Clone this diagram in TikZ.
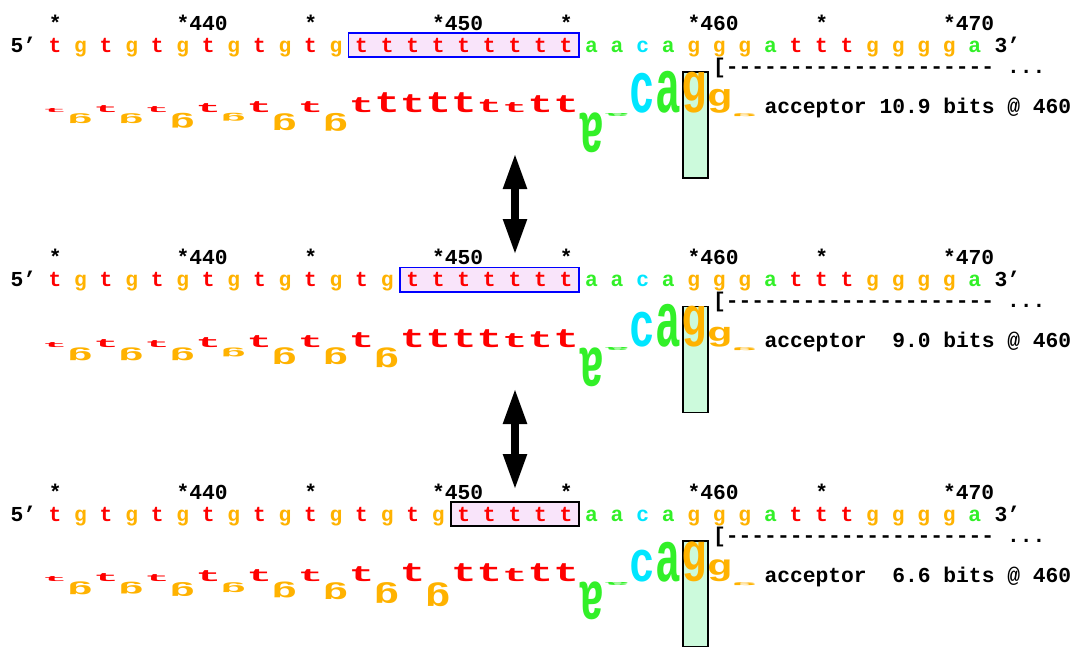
\documentclass[tikz,border=0pt]{standalone}
\usepackage{fontspec}
\setmonofont{Liberation Mono}
\usepackage{graphicx}
\usetikzlibrary{arrows.meta, backgrounds, calc}

\definecolor{colt}{RGB}{255,0,0}
\definecolor{colg}{RGB}{255,178,0}
\definecolor{cola}{RGB}{50,240,40}
\definecolor{colc}{RGB}{0,230,255}
\definecolor{boxpink}{RGB}{249,228,250}
\definecolor{sitegreen}{RGB}{204,250,220}

\begin{document}
\begin{tikzpicture}[x=1pt, y=-1pt,
	seq/.style={inner sep=0pt, minimum width=25.55pt, text height=19pt, text depth=5pt, anchor=base,
		font=\ttfamily\bfseries\fontsize{21.3}{24}\selectfont},
	lab/.style={inner sep=0pt, anchor=base west, font=\ttfamily\bfseries\fontsize{21.3}{24}\selectfont},
	walk/.style={inner sep=0pt, font=\ttfamily\bfseries\fontsize{30}{30}\selectfont},
	tbox/.style={fill=boxpink, line width=1.6pt},
	site/.style={fill=sitegreen, draw=black, line width=1.6pt},
	dbl/.style={line width=8pt, {Triangle[length=36pt,width=22pt]}-{Triangle[length=36pt,width=22pt]}}]
	\useasboundingbox (0,0) rectangle (1073,646);
	
	% first row, 9 t
	\foreach \t/\k in {*/0, *440/5, */10, *450/15, */20, *460/25, */30, *470/35}
	\node[lab] (n1-\k) at (55+25.55*\k-6.39,30) {\t};
	\node[lab] (p5a) at (10.3,52) {5’};
	\foreach \l [count=\i from 0] in {t,g,t,g,t,g,t,g,t,g,t,g,t,t,t,t,t,t,t,t,t,a,a,c,a,g,g,g,a,t,t,t,g,g,g,g,a}
	\node[seq, text=col\l] (s1-\i) at (55+25.55*\i,52) {\l};
	\node[lab] (p3a) at (994.3,52) {3’};
	\node[lab] (b1) at (712.9,73) {[--------------------- ...};
	\foreach \l/\h [count=\i from 0] in {t/4,g/-10,t/7,g/-10,t/6,g/-15,t/9,g/-8,t/11,g/-17,t/11,g/-18,t/15,t/20,t/18,t/20,t/20,t/13,t/10,t/17,t/17,a/-40,a/-3,c/40,a/42,g/41,g/24,g/-3} {
		\pgfmathsetmacro\hh{abs(\h)}
		\ifdim \h pt<0pt
		\node[walk, anchor=north, text=col\l] (w1-\i) at (55+25.55*\i,113) {\rotatebox{180}{\resizebox*{25.5pt}{\hh pt}{\l}}};
		\else
		\node[walk, anchor=south, text=col\l] (w1-\i) at (55+25.55*\i,113) {\resizebox*{25.5pt}{\hh pt}{\l}};
		\fi
	}
	\node[lab] (l1) at (764.3,113) {acceptor 10.9 bits @ 460};
	\begin{scope}[on background layer]
		\draw[tbox, draw=blue] (s1-12.north west) rectangle (s1-20.south east);
		\draw[site] ($(w1-25.south)+(-11,-41)$) rectangle ($(w1-25.south)+(14,65)$);
	\end{scope}
	
	\coordinate (a1s) at (515,153);
	\coordinate (a1e) at (515,255);
	\draw[dbl] (a1s) -- (a1e);
	
	% second row, 7 t
	\foreach \t/\k in {*/0, *440/5, */10, *450/15, */20, *460/25, */30, *470/35}
	\node[lab] (n2-\k) at (55+25.55*\k-6.39,264.5) {\t};
	\node[lab] (p5b) at (10.3,286.5) {5’};
	\foreach \l [count=\i from 0] in {t,g,t,g,t,g,t,g,t,g,t,g,t,g,t,t,t,t,t,t,t,a,a,c,a,g,g,g,a,t,t,t,g,g,g,g,a}
	\node[seq, text=col\l] (s2-\i) at (55+25.55*\i,286.5) {\l};
	\node[lab] (p3b) at (994.3,286.5) {3’};
	\node[lab] (b2) at (712.9,307.5) {[--------------------- ...};
	\foreach \l/\h [count=\i from 0] in {t/5,g/-13,t/8,g/-13,t/7,g/-13,t/10,g/-9,t/12,g/-17,t/12,g/-17,t/15,g/-20,t/18,t/18,t/18,t/18,t/14,t/16,t/18,a/-39,a/-3,c/35,a/43,g/41,g/20,g/-3} {
		\pgfmathsetmacro\hh{abs(\h)}
		\ifdim \h pt<0pt
		\node[walk, anchor=north, text=col\l] (w2-\i) at (55+25.55*\i,347.5) {\rotatebox{180}{\resizebox*{25.5pt}{\hh pt}{\l}}};
		\else
		\node[walk, anchor=south, text=col\l] (w2-\i) at (55+25.55*\i,347.5) {\resizebox*{25.5pt}{\hh pt}{\l}};
		\fi
	}
	\node[lab] (l2) at (764.3,347.5) {acceptor~~9.0 bits @ 460};
	\begin{scope}[on background layer]
		\draw[tbox, draw=blue] (s2-14.north west) rectangle (s2-20.south east);
		\draw[site] ($(w2-25.south)+(-11,-41)$) rectangle ($(w2-25.south)+(14,65)$);
	\end{scope}
	
	\coordinate (a2s) at (515,388);
	\coordinate (a2e) at (515,490);
	\draw[dbl] (a2s) -- (a2e);
	
	% third row, 5 t
	\foreach \t/\k in {*/0, *440/5, */10, *450/15, */20, *460/25, */30, *470/35}
	\node[lab] (n3-\k) at (55+25.55*\k-6.39,499) {\t};
	\node[lab] (p5c) at (10.3,521) {5’};
	\foreach \l [count=\i from 0] in {t,g,t,g,t,g,t,g,t,g,t,g,t,g,t,g,t,t,t,t,t,a,a,c,a,g,g,g,a,t,t,t,g,g,g,g,a}
	\node[seq, text=col\l] (s3-\i) at (55+25.55*\i,521) {\l};
	\node[lab] (p3c) at (994.3,521) {3’};
	\node[lab] (b3) at (712.9,542) {[--------------------- ...};
	\foreach \l/\h [count=\i from 0] in {t/5,g/-13,t/8,g/-12,t/7,g/-14,t/11,g/-10,t/12,g/-16,t/12,g/-17,t/15,g/-21,t/18,g/-24,t/18,t/18,t/13,t/18,t/18,a/-38,a/-3,c/32,a/40,g/40,g/22,g/-3} {
		\pgfmathsetmacro\hh{abs(\h)}
		\ifdim \h pt<0pt
		\node[walk, anchor=north, text=col\l] (w3-\i) at (55+25.55*\i,582) {\rotatebox{180}{\resizebox*{25.5pt}{\hh pt}{\l}}};
		\else
		\node[walk, anchor=south, text=col\l] (w3-\i) at (55+25.55*\i,582) {\resizebox*{25.5pt}{\hh pt}{\l}};
		\fi
	}
	\node[lab] (l3) at (764.3,582) {acceptor~~6.6 bits @ 460};
	\begin{scope}[on background layer]
		\draw[tbox, draw=black] (s3-16.north west) rectangle (s3-20.south east);
		\draw[site] ($(w3-25.south)+(-11,-41)$) rectangle ($(w3-25.south)+(14,65)$);
	\end{scope}
\end{tikzpicture}
\end{document}
